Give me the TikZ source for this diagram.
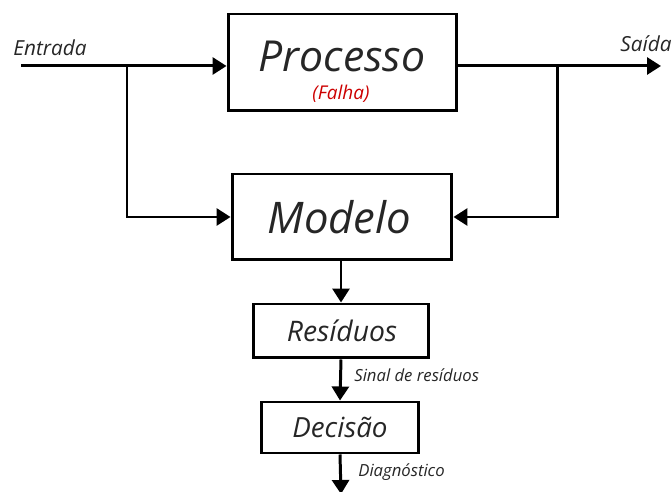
\documentclass[tikz,border=0pt]{standalone}
\usepackage{fontspec}
\setmainfont{Open Sans}
\usetikzlibrary{arrows.meta}

\begin{document}
\begin{tikzpicture}[x=0.02cm, y=-0.02cm, every node/.style={font=\itshape, text=black!85}, >={Triangle[length=0.28cm, width=0.34cm]}, line width=1.7pt, box/.style={draw, line width=1.7pt, inner sep=0pt}, sig/.style={font=\itshape\fontsize{11.8}{13}\selectfont}, arr/.style={->}]
	\useasboundingbox (0,0) rectangle (672,492);
	% blocos
	\node[box, minimum width=4.58cm, minimum height=1.94cm] (proc) at (342.5,62.5) {};
	\node[font=\itshape\fontsize{24.3}{27}\selectfont] (proctxt) at (342,56) {Processo};
	\node[text=red!80!black, font=\itshape\fontsize{10.8}{12}\selectfont] (falha) at (341,94) {(Falha)};
	\node[box, minimum width=4.4cm, minimum height=1.72cm, font=\itshape\fontsize{24.8}{27}\selectfont] (mod) at (342,217) {\hspace*{-0.1cm}Modelo};
	\node[box, minimum width=3.52cm, minimum height=1.08cm, font=\itshape\fontsize{16.1}{18}\selectfont] (res) at (341,331) {\hspace*{0.04cm}Resíduos};
	\node[box, minimum width=3.16cm, minimum height=1.02cm, font=\itshape\fontsize{15.8}{17}\selectfont] (dec) at (340,427.5) {Decisão};
	% entrada e saida
	\coordinate (in) at (21,66);
	\coordinate (out) at (661,66);
	\coordinate (split1) at (127,66);
	\coordinate (split2) at (557,66);
	\coordinate (diag) at (341,494);
	\draw[arr] (in) -- (in -| proc.west);
	\draw (proc.east |- out) -- (split2);
	\draw[arr] (split2) -- (out);
	\draw[arr] (split1) |- (mod.west);
	\draw[arr] (split2) |- (mod.east);
	\draw[arr] (mod.south -| res.north) -- (res.north);
	\draw[arr] (res.south) -- (dec.north);
	\draw[arr] (dec.south) -- (diag);
	% rotulos
	\node[sig] (entrada) at (50,48) {Entrada};
	\node[sig] (saida) at (646,44) {Saída};
	\node[sig, anchor=west, font=\itshape\fontsize{9.5}{11}\selectfont] (sinal) at (347,375) {Sinal de resíduos};
	\node[sig, anchor=west, font=\itshape\fontsize{9.5}{11}\selectfont] (diagtxt) at (351,472) {Diagnóstico};
\end{tikzpicture}
\end{document}
